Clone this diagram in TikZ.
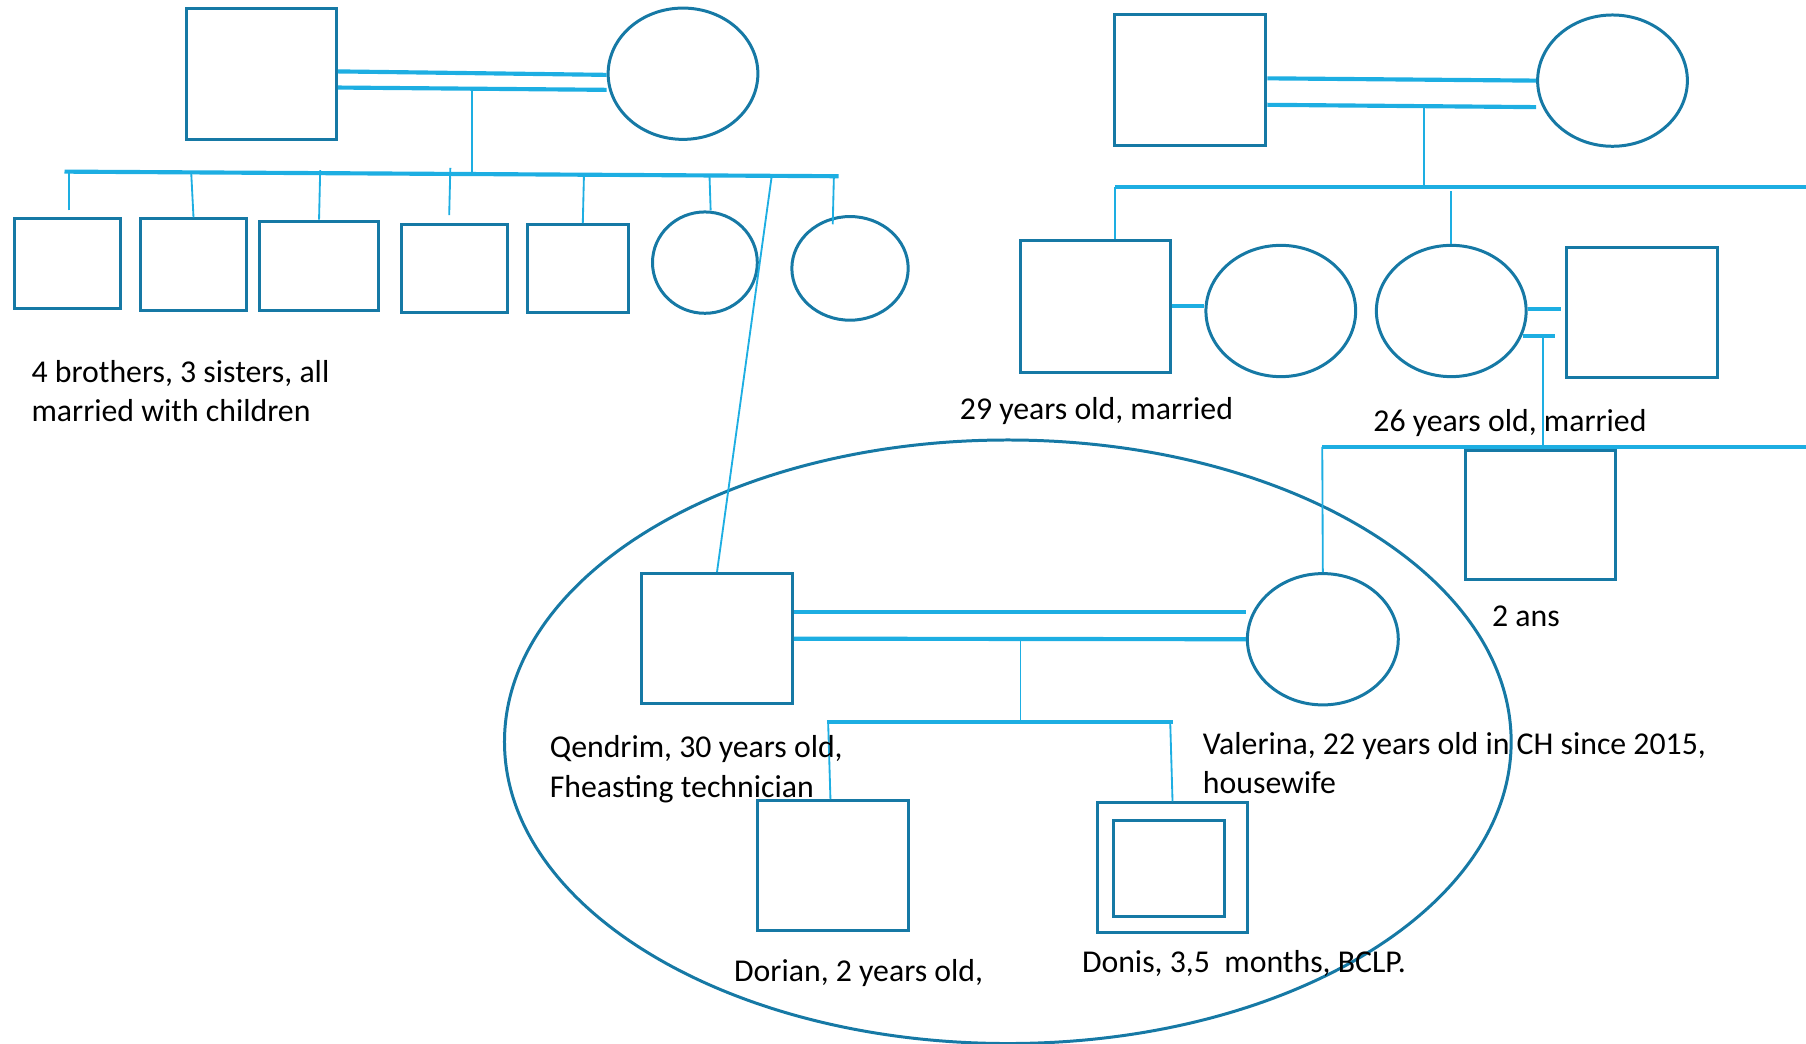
\documentclass[tikz,border=0pt]{standalone}
\usepackage{fontspec}
\setmainfont{Carlito}
\usetikzlibrary{shapes.geometric}
\definecolor{shapeline}{RGB}{22,121,165}
\definecolor{pedline}{RGB}{29,174,226}

\begin{document}
\begin{tikzpicture}[x=0.5pt, y=-0.5pt,
        male/.style={draw=shapeline, line width=1.3pt, rectangle, inner sep=0pt},
        female/.style={draw=shapeline, line width=1.3pt, ellipse, inner sep=0pt},
        household/.style={draw=shapeline, line width=1.3pt, ellipse, inner sep=0pt},
        marriage/.style={line width=1.8pt},
        descent/.style={line width=0.8pt},
        note/.style={anchor=base west, inner sep=0pt, align=left, font=\fontsize{13.8}{17}\selectfont}
        ]
        \useasboundingbox (0,0) rectangle (1568,906);
        % paternal side
        \node [male, name=lfa, minimum width=65pt, minimum height=57pt] at (227,64) {};
        \node [female, name=lmo, minimum width=65pt, minimum height=57pt] at (593,64) {};
        \node [male, name=s1, minimum width=46pt, minimum height=39pt] at (59,229) {};
        \node [male, name=s2, minimum width=46pt, minimum height=40pt] at (168,230) {};
        \node [male, name=s3, minimum width=52pt, minimum height=39pt] at (277,231) {};
        \node [male, name=s4, minimum width=46pt, minimum height=38pt] at (395,233) {};
        \node [male, name=s5, minimum width=44pt, minimum height=38pt] at (502,233) {};
        \node [female, name=s6, minimum width=45.5pt, minimum height=44pt] at (612,228) {};
        \node [female, name=s7, minimum width=50.5pt, minimum height=45pt] at (738,233) {};
        % maternal side
        \node [male, name=rfa, minimum width=65.5pt, minimum height=56.5pt] at (1033.5,69.5) {};
        \node [female, name=rmo, minimum width=65pt, minimum height=57pt] at (1400,70) {};
        \node [male, name=rso, minimum width=65pt, minimum height=57pt] at (951,266) {};
        \node [female, name=rsw, minimum width=65pt, minimum height=57pt] at (1112,270) {};
        \node [female, name=rda, minimum width=65pt, minimum height=57pt] at (1260,270) {};
        \node [male, name=rdh, minimum width=65.5pt, minimum height=56.5pt] at (1425.5,271.5) {};
        \node [male, name=rgc, minimum width=65.5pt, minimum height=56pt] at (1337.5,447) {};
        % the household
        \node [household, name=core, minimum width=437pt, minimum height=262pt] at (875,644) {};
        \node [male, name=qen, minimum width=65.5pt, minimum height=56.5pt] at (622.5,554.5) {};
        \node [female, name=val, minimum width=65.5pt, minimum height=57pt] at (1148.5,555) {};
        \node [male, name=dor, minimum width=65.5pt, minimum height=56.5pt] at (723.5,751.5) {};
        \node [male, name=don, minimum width=65pt, minimum height=56.5pt] at (1018,753.5) {};
        \node [male, name=doni, minimum width=48pt, minimum height=42pt] at (1015,754) {};

        \coordinate (lm) at (410,77);
        \coordinate (lsa) at (56,149);
        \coordinate (lsb) at (728,153);
        \coordinate (lsq) at (670,153);
        \coordinate (rm) at (1236,92);
        \coordinate (rsa) at (968,162);
        \coordinate (rsb) at (1568,162);
        \coordinate (rdm) at (1340,292);
        \coordinate (rca) at (1148,388);
        \coordinate (rcb) at (1568,388);
        \coordinate (cm) at (886,555);
        \coordinate (csa) at (718,627);
        \coordinate (csb) at (1018,627);

        \begin{scope}[color=pedline]
          \draw [marriage] ([yshift=1pt]lfa.east) -- ([yshift=-0.5pt]lmo.west);
          \draw [marriage] ([yshift=-6pt]lfa.east) -- ([yshift=-7pt]lmo.west);
          \draw [descent] (lm) -- (lm |- lsa);
          \draw [marriage] (lsa) -- (lsb);
          \draw [descent] ([xshift=0.5pt,yshift=3pt]s1.north) -- ++(0,-34);
          \draw [descent] (s2.north) -- ++(-2,-39);
          \draw [descent] (s3.north) -- ++(1,-43);
          \draw [descent] ([xshift=-2.5pt,yshift=3.5pt]s4.north) -- ++(1,-41);
          \draw [descent] ([xshift=2pt]s5.north) -- ++(1,-42);
          \draw [descent] ([xshift=2.5pt]s6.north) -- ++(-1,-30);
          \draw [descent] ([xshift=-7.5pt,yshift=-4pt]s7.north) -- ++(1,-42);
          \draw [descent] (lsq) -- (qen.north);
        \end{scope}
        \begin{scope}[color=pedline]
          \draw [marriage] ([yshift=0.75pt]rfa.east) -- (rmo.west);
          \draw [marriage] ([yshift=-10.75pt]rfa.east) -- ([yshift=-11.5pt]rmo.west);
          \draw [descent] (rm) -- (rm |- rsa);
          \draw [marriage] (rsa) -- (rsb);
          \draw [descent] (rsa) -- (rsa |- rso.north);
          \draw [marriage] (rso.east) -- (rso.east -| rsw.west);
          \draw [descent] (rda.north) -- ++(0,-46);
          \draw [marriage, shorten >=1.5pt] ([yshift=1pt]rda.east) -- ([yshift=1pt]rda.east -| rdh.west);
          \draw [marriage] ([xshift=-9pt]rdm) -- ([xshift=5pt]rdm);
          \draw [descent] (rdm) -- (rdm |- rca);
          \draw [marriage] (rca) -- (rcb);
          \draw [descent] (rca) -- (val.north);
        \end{scope}
        \begin{scope}[color=pedline]
          \draw [marriage] ([yshift=11.75pt]qen.east) -- ([yshift=12pt]val.west);
          \draw [marriage] (qen.east) -- (val.west);
          \draw [descent] (cm) -- (cm |- csa);
          \draw [marriage] (csa) -- (csb);
          \draw [descent] ([xshift=0.5pt]csa) -- ([xshift=-1.25pt]dor.north);
          \draw [descent] ([xshift=-1pt]csb) -- (don.north);
        \end{scope}

        \node [note, name=tsib] at (27,366) {4 brothers, 3 sisters, all\\married with children};
        \node [note, name=tso] at (833,364) {29 years old, married};
        \node [note, name=tda] at (1192,375) {26 years old, married};
        \node [note, name=tgc] at (1295,544) {2 ans};
        \node [note, name=tqen] at (477,692) {Qendrim, 30 years old,\\Fheasting technician};
        \node [note, name=tval] at (1044,689) {Valerina, 22 years old in CH since 2015,\\housewife};
        \node [note, name=tdor] at (637,852) {Dorian, 2 years old,};
        \node [note, name=tdon] at (939,844) {Donis, 3,5\ \ months, BCLP.};
      \end{tikzpicture}
\end{document}
